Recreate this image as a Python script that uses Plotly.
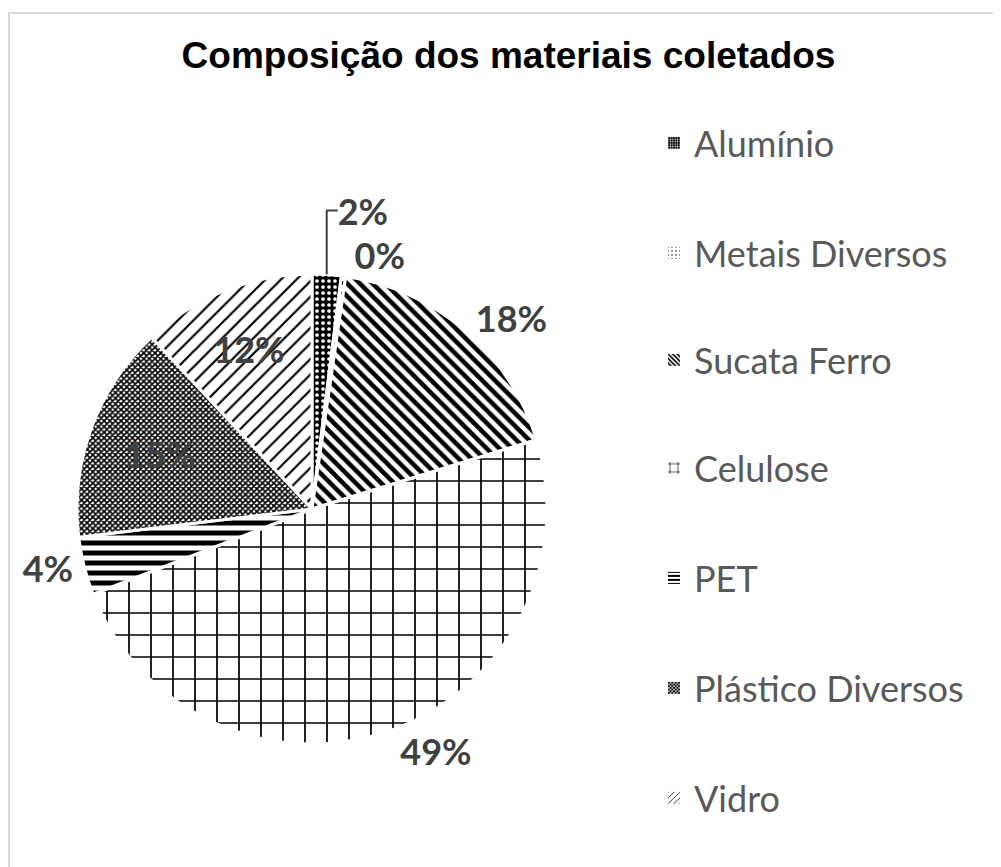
import plotly.graph_objects as go

categories = ["Alumínio", "Metais Diversos", "Sucata Ferro", "Celulose", "PET", "Plástico Diversos", "Vidro"]
values = [2.0, 0.3, 18.0, 49.0, 4.0, 15.0, 12.0]
text_positions = ["outside", "outside", "outside", "outside", "outside", "inside", "inside"]

# pattern styles per slice
pat_shapes = [".", ".", "\\", "+", "-", "x", "/"]
pat_sizes = [6, 10, 9, 22, 10, 4, 11]
pat_solid = [0.3, 0.12, 0.5, 0.15, 0.5, 0.65, 0.2]
pat_fg = ["white", "black", "black", "black", "black", "black", "black"]
pat_bg = ["black", "white", "white", "white", "white", "white", "white"]

W, H = 1001, 867
OFF = 8  # page body margin
fig = go.Figure()

fig.add_trace(go.Pie(
    labels=categories, values=values, sort=False, direction="clockwise", rotation=0,
    marker=dict(colors=pat_bg, line=dict(color="white", width=3),
                pattern=dict(shape=pat_shapes, size=pat_sizes, solidity=pat_solid,
                             fgcolor=pat_fg, bgcolor=pat_bg, fillmode="replace")),
    texttemplate="%{percent:.0%}", textposition=text_positions,
    textfont=dict(family="Lato", size=36, color="#404040", weight="bold"),
    insidetextfont=dict(family="Lato", size=36, color="#404040", weight="bold"),
    outsidetextfont=dict(family="Lato", size=36, color="#404040", weight="bold"),
    insidetextorientation="horizontal",
    showlegend=False, hoverinfo="label+percent",
    domain=dict(x=[(77 - OFF) / W, (547 - OFF) / W], y=[1 - (744 - OFF) / H, 1 - (274 - OFF) / H]),
))

legend_y = [145, 255, 362, 470, 580, 690, 800]
layout_legends = {}
for i, name in enumerate(categories):
    key = "legend" if i == 0 else f"legend{i+1}"
    fig.add_trace(go.Bar(
        x=[None], y=[None], name=name, legend=key, showlegend=True,
        marker=dict(color=pat_bg[i], line=dict(width=0),
                    pattern=dict(shape=pat_shapes[i], size=max(3, pat_sizes[i] // 2),
                                 solidity=pat_solid[i], fgcolor=pat_fg[i],
                                 bgcolor=pat_bg[i], fillmode="replace")),
        hoverinfo="skip",
    ))
    layout_legends[key] = dict(
        x=646 / W, y=1 - (legend_y[i] - 10) / H, xanchor="left", yanchor="middle",
        font=dict(family="Lato", size=36, color="#595959"),
        bgcolor="rgba(0,0,0,0)", itemclick=False, itemdoubleclick=False,
    )

fig.update_layout(
    width=W, height=H, margin=dict(l=0, r=0, t=0, b=0, autoexpand=False),
    paper_bgcolor="white", plot_bgcolor="white",
    title=dict(text="<b>Composição dos materiais coletados</b>", x=0.5, xanchor="center",
               y=1 - 47 / H, yanchor="middle",
               font=dict(family="Liberation Sans", size=37, color="black")),
    xaxis=dict(visible=False), yaxis=dict(visible=False),
    shapes=[dict(type="rect", xref="paper", yref="paper",
                 x0=1 / W, x1=1.05, y0=-0.05, y1=1 - 5 / H,
                 line=dict(color="#d9d9d9", width=2), fillcolor="rgba(0,0,0,0)", layer="below")],
    **layout_legends,
)

fig.write_html("out.html")
